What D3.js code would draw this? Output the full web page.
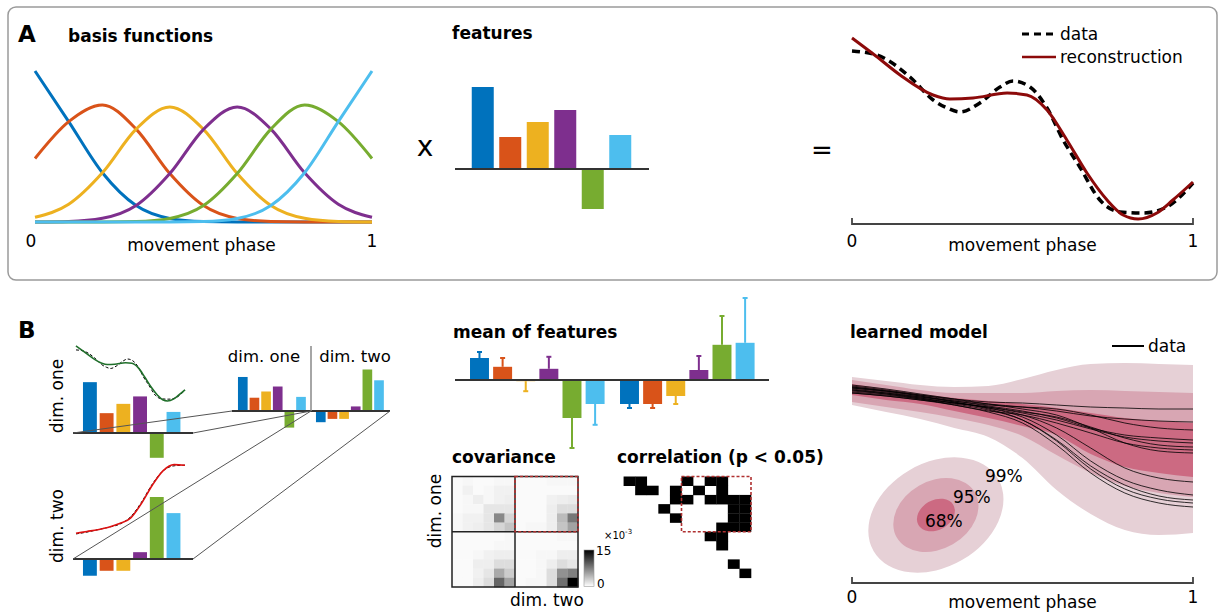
<!DOCTYPE html>
<html>
<head>
<meta charset="utf-8">
<script src="https://cdn.jsdelivr.net/npm/d3@7"></script>
<style>
body { margin: 0; background: #fff; }
svg { font-family: "DejaVu Sans", sans-serif; }
</style>
</head>
<body>
<svg id="fig" width="1222" height="613"></svg>
<script>
// ---- data ----
const colors = ['#0072bd', '#d95319', '#edb120', '#7e2f8e', '#77ac30', '#4dbeee']
const phase11 = [0, 0.1, 0.2, 0.3, 0.4, 0.5, 0.6, 0.7, 0.8, 0.9, 1]

const basisFunctions = [
	[0.689, 0.458, 0.2246, 0.075, 0.0164, 0.0023, 0.0002, 0, 0, 0, 0],
	[0.290, 0.458, 0.534, 0.424, 0.221, 0.0748, 0.0164, 0.0023, 0.0002, 0, 0],
	[0.0216, 0.0811, 0.2246, 0.424, 0.525, 0.4228, 0.221, 0.075, 0.0167, 0.0025, 0.0003],
	[0.0003, 0.0025, 0.0167, 0.075, 0.221, 0.4228, 0.525, 0.424, 0.2246, 0.0811, 0.0216],
	[0, 0, 0.0002, 0.0023, 0.0164, 0.0748, 0.221, 0.424, 0.534, 0.458, 0.290],
	[0, 0, 0, 0, 0.0002, 0.0023, 0.0164, 0.075, 0.2246, 0.458, 0.689],
]

const featuresDimOne = [0.82, 0.32, 0.47, 0.59, -0.40, 0.34]
const featuresDimTwo = [-0.27, -0.19, -0.19, 0.11, 1.0, 0.74]

const reconPhase = [0, 0.07, 0.141, 0.2375, 0.287, 0.355, 0.455, 0.513, 0.572, 0.63, 0.689, 0.748, 0.795, 0.839, 0.894, 0.941, 1]
const reconValues = [0.93, 0.84, 0.745, 0.645, 0.625, 0.63, 0.655, 0.645, 0.57, 0.42, 0.255, 0.12, 0.045, 0.025, 0.055, 0.12, 0.21]
const dataPhase = [0, 0.073, 0.17, 0.238, 0.279, 0.317, 0.375, 0.434, 0.472, 0.522, 0.572, 0.619, 0.668, 0.727, 0.786, 0.853, 0.923, 1]
const dataValues = [0.865, 0.845, 0.735, 0.62, 0.58, 0.56, 0.605, 0.685, 0.715, 0.685, 0.58, 0.42, 0.285, 0.12, 0.06, 0.055, 0.085, 0.205]

const dimTwoRecon = [0.11, 0.14, 0.17, 0.21, 0.27, 0.36, 0.60, 0.90, 1.14, 1.24, 1.23]
const dimTwoData = [0.10, 0.13, 0.17, 0.21, 0.26, 0.38, 0.62, 0.92, 1.14, 1.22, 1.23]

const meanFeatures = [0.55, 0.33, -0.03, 0.28, -0.95, -0.60, -0.60, -0.60, -0.40, 0.25, 0.88, 0.93]
const meanErrors = [0.15, 0.22, 0.25, 0.30, 0.75, 0.52, 0.10, 0.10, 0.20, 0.35, 0.72, 1.12]

const covariance = [
	[0.3, 0.5, 0.3, 0.3, 0.5, 0.5, 0.3, 0.3, 0.3, 0.5, 0.5, 0.5],
	[0.3, 0.8, 0.3, 0.5, 0.8, 0.8, 0.3, 0.3, 0.3, 0.3, 0.3, 0.3],
	[0.3, 0.5, 1.0, 0.5, 0.8, 1.0, 0.3, 0.3, 0.3, 0.8, 1.0, 1.2],
	[0.3, 0.5, 0.5, 1.5, 1.5, 1.5, 0.3, 0.3, 0.3, 1.0, 2.0, 2.0],
	[0.5, 0.8, 0.8, 1.5, 7.0, 2.5, 0.3, 0.3, 0.3, 1.0, 4.0, 8.0],
	[0.5, 0.8, 1.0, 1.5, 2.5, 3.5, 0.3, 0.5, 0.5, 1.0, 3.5, 5.5],
	[0.3, 0.3, 0.3, 0.3, 0.3, 0.5, 0.3, 0.3, 0.3, 0.3, 0.5, 0.5],
	[0.3, 0.3, 0.3, 0.3, 0.5, 0.5, 0.3, 0.3, 0.3, 0.3, 0.3, 0.3],
	[0.3, 0.3, 0.5, 0.8, 1.0, 1.0, 0.3, 0.3, 0.5, 0.5, 1.0, 1.0],
	[0.3, 0.3, 1.0, 1.0, 2.0, 2.0, 0.3, 0.3, 0.5, 1.0, 2.0, 1.5],
	[0.3, 0.3, 0.8, 1.5, 5.0, 3.0, 0.3, 0.3, 0.5, 2.0, 6.5, 7.5],
	[0.3, 0.3, 1.0, 2.0, 9.0, 5.5, 0.3, 0.5, 0.5, 2.0, 8.5, 15],
]

// significant correlations: [row, col]
const correlationPairs = [
	[0, 1], [0, 2], [0, 6], [0, 8], [0, 9],
	[1, 2], [1, 3], [1, 5], [1, 7], [1, 9],
	[2, 5], [2, 6], [2, 8], [2, 9], [2, 10], [2, 11],
	[3, 4], [3, 10], [3, 11],
	[4, 5], [4, 10], [4, 11],
	[5, 9], [5, 10], [5, 11],
	[6, 8], [6, 9],
	[7, 9],
	[9, 10],
	[10, 11],
]

// learned model bands (height above the axis)
const outerTop = [206, 202, 198, 196, 197, 204, 213, 219, 220, 219, 218]
const outerBot = [178, 171, 164, 155, 146, 125, 93, 69, 53, 48, 50]
const midTop = [203, 198, 193, 190, 190, 190, 192, 193, 192, 191, 190]
const midBot = [181, 176, 171, 165, 158, 147, 128, 110, 97, 90, 86]
const innerTop = [199, 194, 189, 185, 182, 179, 175, 170, 165, 162, 160]
const innerBot = [188, 183, 179, 172, 165, 157, 148, 129, 116, 110, 106]

const modelTraces = [
	[195, 192, 188, 184, 181, 180, 178, 176, 175, 174, 174],
	[197, 193, 188, 183, 179, 176, 172, 167, 164, 162, 161],
	[193, 190, 186, 182, 178, 176, 174, 168, 160, 155, 153],
	[196, 192, 187, 182, 177, 172, 165, 155, 148, 145, 143],
	[191, 188, 184, 180, 176, 170, 163, 154, 146, 142, 140],
	[194, 190, 185, 180, 176, 171, 166, 156, 145, 138, 136],
	[190, 187, 183, 178, 172, 168, 160, 150, 140, 135, 133],
	[198, 194, 189, 184, 179, 174, 168, 155, 140, 132, 130],
	[192, 189, 185, 180, 175, 168, 155, 135, 115, 105, 101],
	[195, 191, 186, 181, 175, 166, 148, 122, 103, 93, 88],
	[190, 187, 183, 179, 173, 163, 143, 117, 98, 87, 83],
	[196, 192, 187, 181, 174, 163, 142, 114, 94, 84, 80],
	[193, 189, 184, 178, 171, 160, 138, 110, 90, 80, 76],
]

const ellipseLevels = ['99%', '95%', '68%']
const ellipseRadii = [[3.0, 2.17], [1.88, 1.41], [0.84, 0.62]]
const ellipseCenter = [0.246, 68]
const bandColors = ['#e6d0d6', '#d8a6b3', '#cc6a82']

// ---- drawing ----
const svg = d3.select('#fig')

const label = (x, y, str, size = 17, bold = false, anchor = 'start') => svg.append('text')
	.attr('x', x).attr('y', y)
	.attr('text-anchor', anchor)
	.style('font-size', size + 'px')
	.style('font-weight', bold ? 'bold' : 'normal')
	.text(str)

const vLabel = (x, y, str, size = 17) => svg.append('text')
	.attr('transform', `translate(${x},${y}) rotate(-90)`)
	.attr('text-anchor', 'middle')
	.style('font-size', size + 'px')
	.text(str)

// panel A frame
svg.append('rect')
	.attr('x', 8).attr('y', 7).attr('width', 1209).attr('height', 273).attr('rx', 8)
	.style('fill', 'none').style('stroke', '#9a9a9a').style('stroke-width', 1.5)

label(18, 42, 'A', 23, true)
label(68, 42, 'basis functions', 17, true)
label(452, 39, 'features', 17, true)
label(425, 156, 'x', 28, false, 'middle')
label(822, 159, '=', 26, false, 'middle')

// basis functions
const xBasis = d3.scaleLinear().domain([0, 1]).range([35, 372])
const yBasis = d3.scaleLinear().domain([0, 0.689]).range([222, 71])
const basisLine = d3.line()
	.x((d, i) => xBasis(phase11[i]))
	.y((d) => yBasis(d))
	.curve(d3.curveMonotoneX)
svg.append('g').selectAll('path')
	.data(basisFunctions).join('path')
	.attr('d', basisLine)
	.style('fill', 'none')
	.style('stroke', (d, i) => colors[i])
	.style('stroke-width', 3)
label(xBasis(0) - 4, 247, '0', 17, false, 'middle')
label(xBasis(1), 247, '1', 17, false, 'middle')
label(xBasis(0.5) - 2, 251, 'movement phase', 17, false, 'middle')

// generic bar group
const drawBars = (values, band, y, axisX, offset = 0) => {
	const g = svg.append('g')
	g.selectAll('rect')
		.data(values).join('rect')
		.attr('x', (d, i) => band(i))
		.attr('width', band.bandwidth())
		.attr('y', (d) => Math.min(y(d), y(0)))
		.attr('height', (d) => Math.abs(y(d) - y(0)))
		.style('fill', (d, i) => colors[(i + offset) % 6])
	if (axisX) {
		g.append('line')
			.attr('x1', axisX[0]).attr('x2', axisX[1])
			.attr('y1', y(0)).attr('y2', y(0))
			.style('stroke', '#333').style('stroke-width', 2)
	}
	return g
}

// A features
const bandA = d3.scaleBand().domain(d3.range(6)).range([469, 634]).paddingInner(0.2).paddingOuter(0.1)
const yA = d3.scaleLinear().domain([0, 1]).range([169, 69])
drawBars(featuresDimOne, bandA, yA, [455, 649])

// A reconstruction
const xRec = d3.scaleLinear().domain([0, 1]).range([852, 1193])
const yRec = d3.scaleLinear().domain([0, 1]).range([224, 24])
const phaseAxis = (x, yPos, tickY, labelY) => {
	svg.append('path')
		.attr('d', `M${x(0)},${yPos - 6}V${yPos}H${x(1)}V${yPos - 6}`)
		.style('fill', 'none').style('stroke', '#444').style('stroke-width', 1.8)
	label(x(0), tickY, '0', 17, false, 'middle')
	label(x(1), tickY, '1', 17, false, 'middle')
	label(x(0.5), labelY, 'movement phase', 17, false, 'middle')
}
phaseAxis(xRec, 224, 247, 251)

const lineOf = (phases, x, y) => d3.line()
	.x((d, i) => x(phases[i]))
	.y((d) => y(d))
	.curve(d3.curveMonotoneX)

svg.append('path')
	.attr('d', lineOf(dataPhase, xRec, yRec)(dataValues))
	.style('fill', 'none').style('stroke', '#000').style('stroke-width', 3.5)
	.style('stroke-dasharray', '8,5')
svg.append('path')
	.attr('d', lineOf(reconPhase, xRec, yRec)(reconValues))
	.style('fill', 'none').style('stroke', '#8c0a0a').style('stroke-width', 3)

svg.append('line').attr('x1', 1022).attr('x2', 1056).attr('y1', 34).attr('y2', 34)
	.style('stroke', '#000').style('stroke-width', 3).style('stroke-dasharray', '7,5')
label(1060, 40, 'data')
svg.append('line').attr('x1', 1022).attr('x2', 1056).attr('y1', 57).attr('y2', 57)
	.style('stroke', '#8c0a0a').style('stroke-width', 2.5)
label(1060, 63, 'reconstruction')

// ---- panel B ----
label(18, 338, 'B', 23, true)

// left: per-dimension features
const bandL = d3.scaleBand().domain(d3.range(6)).range([81.3, 182.1]).paddingInner(0.17).paddingOuter(0.1)
const yL1 = d3.scaleLinear().domain([0, 1]).range([433, 371])
const yL2 = d3.scaleLinear().domain([0, 1]).range([559, 497])
drawBars(featuresDimOne, bandL, yL1, [73, 193])
drawBars(featuresDimTwo, bandL, yL2, [73, 193])
vLabel(63, 396, 'dim. one', 17)
vLabel(63, 526, 'dim. two', 17)

const xC1 = d3.scaleLinear().domain([0, 1]).range([76, 185])
const yC1 = d3.scaleLinear().domain([0, 1]).range([402.5, 341.7])
const yC2 = d3.scaleLinear().domain([0, 1]).range([540, 479.2])
svg.append('path')
	.attr('d', lineOf(dataPhase, xC1, yC1)(dataValues))
	.style('fill', 'none').style('stroke', '#000').style('stroke-width', 1).style('stroke-dasharray', '3,2')
svg.append('path')
	.attr('d', lineOf(reconPhase, xC1, yC1)(reconValues))
	.style('fill', 'none').style('stroke', '#1f6f2a').style('stroke-width', 1.6)
svg.append('path')
	.attr('d', lineOf(phase11, xC1, yC2)(dimTwoData))
	.style('fill', 'none').style('stroke', '#000').style('stroke-width', 1).style('stroke-dasharray', '3,2')
svg.append('path')
	.attr('d', lineOf(phase11, xC1, yC2)(dimTwoRecon))
	.style('fill', 'none').style('stroke', '#dd1111').style('stroke-width', 1.6)

// concatenated features
const bandC1 = d3.scaleBand().domain(d3.range(6)).range([236.8, 307]).paddingInner(0.17).paddingOuter(0.1)
const bandC2 = d3.scaleBand().domain(d3.range(6)).range([314.8, 385]).paddingInner(0.17).paddingOuter(0.1)
const yCat = d3.scaleLinear().domain([0, 1]).range([411, 369.5])
drawBars(featuresDimOne, bandC1, yCat, null)
drawBars(featuresDimTwo, bandC2, yCat, null)
svg.append('line').attr('x1', 232).attr('x2', 390).attr('y1', yCat(0)).attr('y2', yCat(0))
	.style('stroke', '#333').style('stroke-width', 2)
svg.append('line').attr('x1', 311).attr('x2', 311).attr('y1', 346).attr('y2', yCat(0))
	.style('stroke', '#888').style('stroke-width', 1.5)
label(264, 362, 'dim. one', 16.5, false, 'middle')
label(355, 362, 'dim. two', 16.5, false, 'middle')

// projection lines
const links = [
	[[73, yL1(0)], [232, yCat(0)]],
	[[193, yL1(0)], [311, yCat(0)]],
	[[73, yL2(0)], [311, yCat(0)]],
	[[193, yL2(0)], [390, yCat(0)]],
]
svg.append('g').selectAll('line')
	.data(links).join('line')
	.attr('x1', (d) => d[0][0]).attr('y1', (d) => d[0][1])
	.attr('x2', (d) => d[1][0]).attr('y2', (d) => d[1][1])
	.style('stroke', '#555').style('stroke-width', 1)

// mean of features
label(453, 338, 'mean of features', 17, true)
const bandM1 = d3.scaleBand().domain(d3.range(6)).range([467.7, 606.9]).paddingInner(0.18).paddingOuter(0.1)
const bandM2 = d3.scaleBand().domain(d3.range(6)).range([617.7, 756.9]).paddingInner(0.18).paddingOuter(0.1)
const yM = d3.scaleLinear().domain([0, 1]).range([380, 340])
const meanX = (i) => i < 6 ? bandM1(i) : bandM2(i - 6)
const gMean = svg.append('g')
gMean.selectAll('line.err')
	.data(meanFeatures).join('line').attr('class', 'err')
	.attr('x1', (d, i) => meanX(i) + bandM1.bandwidth() / 2)
	.attr('x2', (d, i) => meanX(i) + bandM1.bandwidth() / 2)
	.attr('y1', (d) => yM(d))
	.attr('y2', (d, i) => yM(d + Math.sign(d) * meanErrors[i]))
	.style('stroke', (d, i) => colors[i % 6]).style('stroke-width', 2)
gMean.selectAll('line.cap')
	.data(meanFeatures).join('line').attr('class', 'cap')
	.attr('x1', (d, i) => meanX(i) + bandM1.bandwidth() / 2 - 2.5)
	.attr('x2', (d, i) => meanX(i) + bandM1.bandwidth() / 2 + 2.5)
	.attr('y1', (d, i) => yM(d + Math.sign(d) * meanErrors[i]))
	.attr('y2', (d, i) => yM(d + Math.sign(d) * meanErrors[i]))
	.style('stroke', (d, i) => colors[i % 6]).style('stroke-width', 2)
gMean.selectAll('rect')
	.data(meanFeatures).join('rect')
	.attr('x', (d, i) => meanX(i))
	.attr('width', bandM1.bandwidth())
	.attr('y', (d) => Math.min(yM(d), yM(0)))
	.attr('height', (d) => Math.abs(yM(d) - yM(0)))
	.style('fill', (d, i) => colors[i % 6])
gMean.append('line').attr('x1', 455).attr('x2', 769).attr('y1', yM(0)).attr('y2', yM(0))
	.style('stroke', '#333').style('stroke-width', 2)

// covariance
label(452, 463, 'covariance', 17, true)
const cells = d3.range(12)
const xCov = d3.scaleBand().domain(cells).range([452, 578])
const yCov = d3.scaleBand().domain(cells).range([476.5, 587])
const greyScale = d3.scaleLinear().domain([0, 15]).range(['#ffffff', '#000000'])
const covCells = covariance.flatMap((row, r) => row.map((v, c) => ({ r, c, v })))
svg.append('g').selectAll('rect')
	.data(covCells).join('rect')
	.attr('x', (d) => xCov(d.c)).attr('y', (d) => yCov(d.r))
	.attr('width', xCov.bandwidth() + 0.3).attr('height', yCov.bandwidth() + 0.3)
	.style('fill', (d) => greyScale(d.v))
svg.append('rect').attr('x', 452).attr('y', 476.5).attr('width', 126).attr('height', 110.5)
	.style('fill', 'none').style('stroke', '#222').style('stroke-width', 1.5)
svg.append('line').attr('x1', xCov(6)).attr('x2', xCov(6)).attr('y1', 476.5).attr('y2', 587)
	.style('stroke', '#222').style('stroke-width', 1.5)
svg.append('line').attr('x1', 452).attr('x2', 578).attr('y1', yCov(6)).attr('y2', yCov(6))
	.style('stroke', '#222').style('stroke-width', 1.5)
svg.append('rect').attr('x', xCov(6)).attr('y', 476.5).attr('width', 578 - xCov(6)).attr('height', yCov(6) - 476.5)
	.style('fill', 'none').style('stroke', '#b03030').style('stroke-width', 1.6).style('stroke-dasharray', '3,2')
vLabel(441, 511, 'dim. one', 17)
label(547, 606, 'dim. two', 17, false, 'middle')

// colorbar
const grad = svg.append('defs').append('linearGradient')
	.attr('id', 'cbar').attr('x1', 0).attr('y1', 1).attr('x2', 0).attr('y2', 0)
grad.append('stop').attr('offset', '0%').attr('stop-color', greyScale(0))
grad.append('stop').attr('offset', '100%').attr('stop-color', greyScale(15))
svg.append('rect').attr('x', 584).attr('y', 550).attr('width', 10).attr('height', 36.5)
	.style('fill', 'url(#cbar)').style('stroke', '#999').style('stroke-width', 0.6)
label(596, 555, '15', 12)
label(597, 588, '0', 12)
const expo = label(604, 539, '', 10)
expo.append('tspan').text('×10')
expo.append('tspan').attr('dy', -5).style('font-size', '7px').text('-3')

// correlation
label(617, 463, 'correlation (p < 0.05)', 17, true)
const xCor = d3.scaleBand().domain(cells).range([612, 751])
const yCor = d3.scaleBand().domain(cells).range([476.5, 587])
svg.append('g').selectAll('rect')
	.data(correlationPairs).join('rect')
	.attr('x', (d) => xCor(d[1])).attr('y', (d) => yCor(d[0]))
	.attr('width', xCor.bandwidth() + 0.3).attr('height', yCor.bandwidth() + 0.3)
	.style('fill', '#000')
svg.append('rect').attr('x', xCor(6)).attr('y', 476.5).attr('width', 751 - xCor(6)).attr('height', yCor(6) - 476.5)
	.style('fill', 'none').style('stroke', '#b03030').style('stroke-width', 1.6).style('stroke-dasharray', '3,2')

// learned model
label(850, 338, 'learned model', 17, true)
const xModel = d3.scaleLinear().domain([0, 1]).range([852, 1193])
const yModel = d3.scaleLinear().domain([0, 250]).range([583, 333])
const bandArea = (lo) => d3.area()
	.x((d, i) => xModel(phase11[i]))
	.y0((d, i) => yModel(lo[i]))
	.y1((d) => yModel(d))
	.curve(d3.curveMonotoneX)
const bands = [[outerTop, outerBot], [midTop, midBot], [innerTop, innerBot]]
svg.append('g').selectAll('path')
	.data(bands).join('path')
	.attr('d', (d) => bandArea(d[1])(d[0]))
	.style('fill', (d, i) => bandColors[i])
svg.append('g').selectAll('path')
	.data(modelTraces).join('path')
	.attr('d', lineOf(phase11, xModel, yModel))
	.style('fill', 'none').style('stroke', '#000').style('stroke-width', 0.8)
phaseAxis(xModel, 583, 603, 608)
svg.append('line').attr('x1', 1112).attr('x2', 1144).attr('y1', 346).attr('y2', 346)
	.style('stroke', '#000').style('stroke-width', 2)
label(1148, 352, 'data')

const sigma = d3.scaleLinear().domain([0, 1]).range([0, 24])
const cx = xModel(ellipseCenter[0])
const cy = yModel(ellipseCenter[1])
svg.append('g').selectAll('ellipse')
	.data(ellipseRadii).join('ellipse')
	.attr('transform', `translate(${cx},${cy}) rotate(-30)`)
	.attr('rx', (d) => sigma(d[0])).attr('ry', (d) => sigma(d[1]))
	.style('fill', (d, i) => bandColors[i])
const levelOffsets = [[49, -33], [17, -12], [-11, 12]]
svg.append('g').selectAll('text')
	.data(ellipseLevels).join('text')
	.attr('x', (d, i) => cx + levelOffsets[i][0])
	.attr('y', (d, i) => cy + levelOffsets[i][1])
	.style('font-size', '17px')
	.text((d) => d)
</script>
</body>
</html>
